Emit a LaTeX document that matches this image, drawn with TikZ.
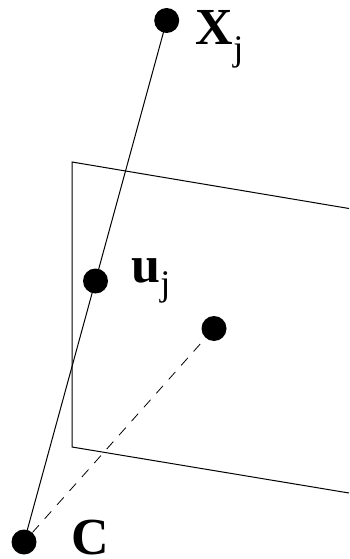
\documentclass[tikz,border=0pt]{standalone}
\usepackage{fontspec}
\setmainfont{Liberation Serif}
\usetikzlibrary{positioning}
\tikzset{
  pointdot/.style={draw=none, fill=black, circle, inner sep=0pt, minimum size=18.75pt},
  ray/.style={line width=0.75pt, black},
  backray/.style={line width=0.6pt, black, dash pattern=on 7.5pt off 6.5pt},
  planeedge/.style={line width=0.75pt, black},
  boldlbl/.style={font=\fontsize{39}{39}\selectfont\bfseries, inner sep=0pt, anchor=base west},
  sublbl/.style={font=\fontsize{27}{27}\selectfont, inner sep=0pt, anchor=base west}
}

\begin{document}
\begin{tikzpicture}[x=0.75pt, y=-0.75pt]
\useasboundingbox (0, 0) rectangle (349, 559);

% Image plane
\coordinate (plane_tr) at (349, 208.5);
\coordinate (plane_tl) at (72, 162);
\coordinate (plane_bl) at (72, 447);
\coordinate (plane_br) at (349, 493);
\draw[planeedge] (plane_tr) -- (plane_tl) -- (plane_bl) -- (plane_br);

% Points
\node[pointdot] (xj) at (166.7, 20.5) {};
\node[pointdot] (uj) at (95.5, 281) {};
\node[pointdot] (proj) at (214, 328.5) {};
\node[pointdot] (cam) at (24, 542) {};

% Rays
\draw[ray] (xj.center) -- (cam.center);
\draw[backray, shorten <=6pt] (proj) -- (cam);

% Labels
\node[boldlbl] (xj_lbl) at (195.5, 45) {X};
\node[sublbl] (xj_sub) at (233, 61) {j};
\node[boldlbl] (uj_lbl) at (131.5, 282) {u};
\node[sublbl] (uj_sub) at (160, 295) {j};
\node[boldlbl] (cam_lbl) at (71.5, 554) {C};

\end{tikzpicture}
\end{document}
